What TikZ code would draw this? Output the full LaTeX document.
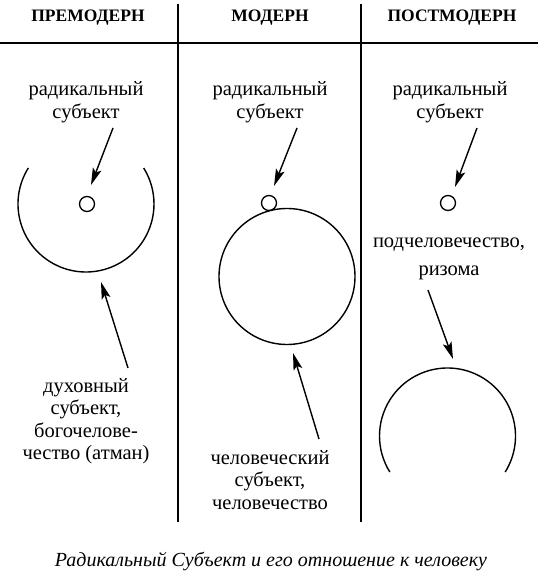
\documentclass[tikz,border=0pt]{standalone}
\usepackage{fontspec}
\setmainfont{Liberation Serif}
\usetikzlibrary{arrows.meta}
\begin{document}
\begin{tikzpicture}[x=1pt,y=1pt,
  line/.style={line width=1.4pt},
  arr/.style={line width=1.4pt,-{Stealth[length=17pt,width=9pt,inset=3.5pt]}},
  head/.style={font=\fontsize{17.5}{19}\selectfont\bfseries, inner sep=0pt},
  lbl/.style={font=\fontsize{20.5}{22.5}\selectfont, align=center, inner sep=0pt},
  dot/.style={circle, draw, line width=1.3pt, minimum size=15pt, inner sep=0pt},
  big/.style={circle, draw, line width=1.4pt, minimum size=136pt, inner sep=0pt}]
\useasboundingbox (0,0) rectangle (540,584);
% frame lines
\coordinate (hl) at (0,541);
\coordinate (hr) at (538,541);
\coordinate (v1t) at (178,580);
\coordinate (v1b) at (178,62);
\coordinate (v2t) at (361,580);
\coordinate (v2b) at (361,62);
\draw[line] (hl) -- (hr);
\draw[line] (v1t) -- (v1b);
\draw[line] (v2t) -- (v2b);
% headers
\node[head] (h1) at (88,566) {ПРЕМОДЕРН};
\node[head] (h2) at (270,566) {МОДЕРН};
\node[head] (h3) at (452,566) {ПОСТМОДЕРН};
% top labels
\node[lbl] (r1) at (86,482) {радикальный\\субъект};
\node[lbl] (r2) at (270,482) {радикальный\\субъект};
\node[lbl] (r3) at (450,482) {радикальный\\субъект};
% small circles
\node[dot] (s1) at (87,380) {};
\node[dot] (s2) at (269,381) {};
\node[dot] (s3) at (448,381) {};
% top arrows
\coordinate (t1) at (113,456); \coordinate (p1) at (91,399);
\coordinate (t2) at (297,456); \coordinate (p2) at (274,398);
\coordinate (t3) at (477,456); \coordinate (p3) at (455,397);
\draw[arr] (t1) -- (p1);
\draw[arr] (t2) -- (p2);
\draw[arr] (t3) -- (p3);
% column 1 arc
\coordinate (c1) at (86,380);
\draw[line] ([shift={(148:68pt)}]c1) arc[start angle=148, end angle=392, radius=68pt];
% column 2 circle
\node[big] (b2) at (287,307.5) {};
% column 3 arc
\coordinate (c3) at (447.5,148);
\draw[line] ([shift={(-32:68pt)}]c3) arc[start angle=-32, end angle=212, radius=68pt];
% bottom labels
\node[lbl] (l1) at (86,163) {духовный\\субъект,\\богочелове-\\чество (атман)};
\node[lbl] (l2) at (270,104) {человеческий\\субъект,\\человечество};
\node[lbl] (l3) at (449,325) {подчеловечество,\\[5pt]ризома};
% bottom arrows
\coordinate (u1) at (128,216); \coordinate (q1) at (101,302);
\coordinate (u2) at (319,145); \coordinate (q2) at (293,231);
\coordinate (u3) at (428,294); \coordinate (q3) at (453,225);
\draw[arr] (u1) -- (q1);
\draw[arr] (u2) -- (q2);
\draw[arr] (u3) -- (q3);
% caption
\node[font=\fontsize{20}{22}\selectfont\itshape, inner sep=0pt] (cap) at (271,22) {Радикальный Субъект и его отношение к человеку};
\end{tikzpicture}
\end{document}
